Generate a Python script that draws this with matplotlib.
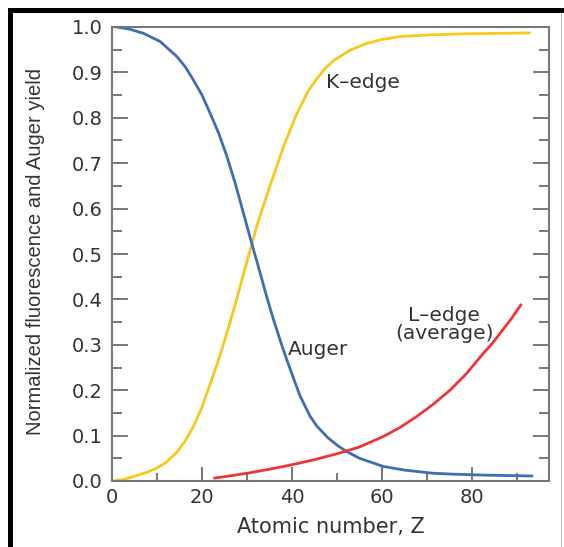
import numpy as np
import matplotlib
matplotlib.use("Agg")
import matplotlib.pyplot as plt
from matplotlib.patches import Rectangle

plt.rcParams['font.family'] = ['DejaVu Sans']

# values
k_z = [0, 2.5, 5.5, 8, 9.9, 12, 14.4, 16.3, 18.1, 20, 21.8, 23.7, 25.5, 27.4,
       29.2, 31, 32.5, 35.1, 38.1, 41.0, 43.6, 45.5, 47.3, 49.2, 52.9, 56.6,
       60.3, 64, 71.4, 78.8, 93]
k_y = [0.0, 0.003, 0.012, 0.02, 0.028, 0.041, 0.063, 0.089, 0.12, 0.163, 0.213,
       0.268, 0.325, 0.39, 0.455, 0.52, 0.572, 0.65, 0.736, 0.808, 0.859, 0.886,
       0.908, 0.926, 0.949, 0.964, 0.973, 0.979, 0.983, 0.985, 0.987]

aug_z = [1, 4, 7, 10.7, 14.4, 16.3, 18.1, 20, 21.8, 23.7, 25.5, 27.4, 29.2,
         31.4, 32.9, 34.4, 35.8, 37.3, 38.8, 40.3, 41.8, 44, 45.5, 48, 50, 52.1,
         55, 60.3, 65, 71.4, 76, 82.5, 93.6]
aug_y = [1.0, 0.995, 0.986, 0.968, 0.935, 0.912, 0.883, 0.85, 0.81, 0.766,
         0.716, 0.655, 0.59, 0.511, 0.459, 0.405, 0.358, 0.312, 0.268, 0.227,
         0.187, 0.143, 0.121, 0.095, 0.079, 0.065, 0.05, 0.032, 0.024, 0.017,
         0.015, 0.013, 0.011]

l_z = [22.5, 26, 30, 35, 39.6, 45, 50, 55, 60.3, 64, 67.7, 71.5, 75.1, 78.8,
       82.5, 84.5, 86.2, 88.7, 91]
l_y = [0.006, 0.011, 0.017, 0.026, 0.035, 0.047, 0.06, 0.075, 0.098, 0.118,
       0.142, 0.17, 0.2, 0.237, 0.281, 0.303, 0.325, 0.357, 0.39]

W, H = 564, 547
fig = plt.figure(figsize=(W / 100, H / 100), dpi=100)
ax = fig.add_axes([112 / W, 66 / H, 437 / W, 454 / H])

ax.plot(k_z, k_y, color='#f8c81c', lw=2.0, solid_capstyle='butt')
ax.plot(aug_z, aug_y, color='#3f6db3', lw=2.0, solid_capstyle='butt')
ax.plot(l_z, l_y, color='#ee3535', lw=2.0, solid_capstyle='butt')

ax.set_xlim(0, 97.1)
ax.set_ylim(0, 1.0)
ax.set_xticks([0, 20, 40, 60, 80])
ax.set_xticks([10, 30, 50, 70, 90], minor=True)
ax.set_yticks(np.arange(0, 1.01, 0.1))
ax.set_yticks(np.arange(0.05, 1.0, 0.1), minor=True)
ax.set_yticklabels(['%.1f' % v for v in np.arange(0, 1.01, 0.1)])

spine_col = '#777777'
for s in ax.spines.values():
    s.set_color(spine_col)
    s.set_linewidth(1.5)

ax.tick_params(which='both', direction='in', color=spine_col, width=1.4,
               labelsize=14, labelcolor='#333333')
ax.tick_params(axis='y', which='major', length=11.5, left=True, right=True, pad=7)
ax.tick_params(axis='y', which='minor', length=7.2, left=True, right=True)
ax.tick_params(axis='x', which='major', length=10, top=False, pad=5)
ax.tick_params(axis='x', which='minor', length=5.8, top=False)

ax.set_xlabel('Atomic number, Z', fontsize=15, color='#333333', labelpad=7)
ax.set_ylabel('Normalized fluorescence and Auger yield', fontsize=14.5,
              color='#333333', family='Liberation Sans', stretch='condensed')
ax.yaxis.set_label_coords(-0.153, 0.505)

ax.text(47.6, 0.877, 'K\u2013edge', fontsize=14.5, color='#333333', va='center')
ax.text(39.1, 0.289, 'Auger', fontsize=14.5, color='#333333', va='center')
ax.text(73.8, 0.345, 'L\u2013edge\n(average)', fontsize=14.5, color='#333333',
        va='center', ha='center', linespacing=0.95)

# frame around the picture
fig.add_artist(Rectangle((7.5 / W, 0), 5 / W, (H - 7.5) / H,
                         transform=fig.transFigure, color='black', lw=0))
fig.add_artist(Rectangle((7.5 / W, (H - 12.5) / H), (W - 7.5) / W, 5 / H,
                         transform=fig.transFigure, color='black', lw=0))
fig.add_artist(Rectangle((561 / W, 0), 1.2 / W, (H - 12.5) / H,
                         transform=fig.transFigure, color='#bbbbbb', lw=0))

fig.savefig('out.png', dpi=100)
